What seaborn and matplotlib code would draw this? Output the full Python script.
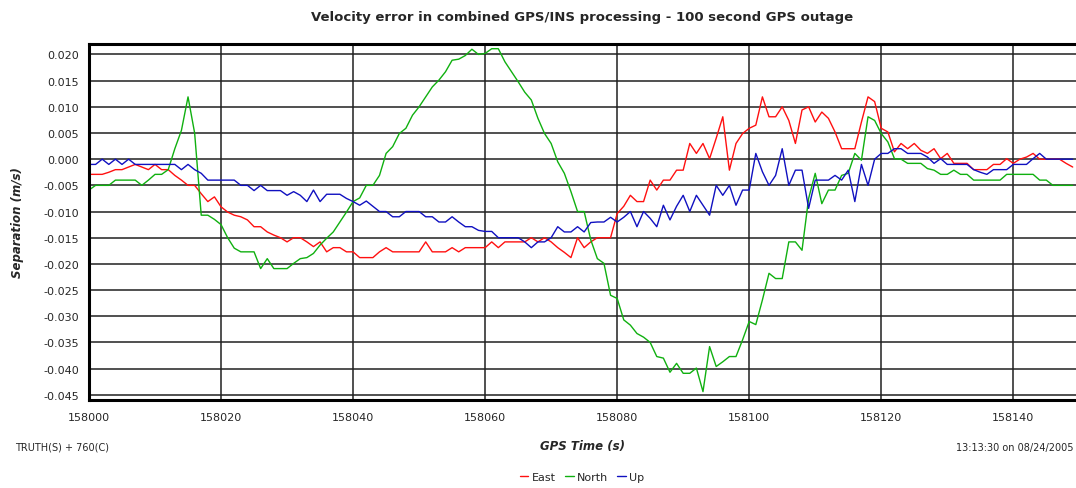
import matplotlib
matplotlib.use("Agg")
import matplotlib.pyplot as plt
import numpy as np
import pandas as pd
import seaborn as sns

# GPS time, one sample per second
gps_time = np.arange(158000, 158150)

east = [
    -0.0029, -0.0029, -0.0029, -0.0025, -0.0020, -0.0020, -0.0015, -0.0010, -0.0015, -0.0020,
    -0.0010, -0.0020, -0.0020, -0.0031, -0.0040, -0.0050, -0.0050, -0.0066, -0.0081, -0.0072,
    -0.0091, -0.0101, -0.0107, -0.0110, -0.0116, -0.0129, -0.0129, -0.0139, -0.0145, -0.0150,
    -0.0158, -0.0150, -0.0150, -0.0158, -0.0167, -0.0158, -0.0177, -0.0169, -0.0169, -0.0177,
    -0.0177, -0.0188, -0.0188, -0.0188, -0.0177, -0.0169, -0.0177, -0.0177, -0.0177, -0.0177,
    -0.0177, -0.0158, -0.0177, -0.0177, -0.0177, -0.0169, -0.0177, -0.0169, -0.0169, -0.0169,
    -0.0169, -0.0158, -0.0169, -0.0158, -0.0158, -0.0158, -0.0158, -0.0150, -0.0158, -0.0150,
    -0.0158, -0.0169, -0.0178, -0.0188, -0.0150, -0.0169, -0.0158, -0.0150, -0.0150, -0.0150,
    -0.0104, -0.0090, -0.0069, -0.0081, -0.0081, -0.0040, -0.0059, -0.0040, -0.0040, -0.0021,
    -0.0021, 0.0030, 0.0011, 0.0030, 0.0001, 0.0040, 0.0081, -0.0021, 0.0030, 0.0049,
    0.0059, 0.0065, 0.0119, 0.0081, 0.0081, 0.0100, 0.0074, 0.0030, 0.0094, 0.0100,
    0.0071, 0.0090, 0.0078, 0.0052, 0.0020, 0.0020, 0.0020, 0.0071, 0.0119, 0.0110,
    0.0059, 0.0052, 0.0014, 0.0030, 0.0020, 0.0030, 0.0017, 0.0011, 0.0020, 0.0001,
    0.0011, -0.0008, -0.0008, -0.0008, -0.0020, -0.0020, -0.0020, -0.0010, -0.0010, 0.0001,
    -0.0008, 0.0000, 0.0004, 0.0011, 0.0000, 0.0000, 0.0000, 0.0000, -0.0008, -0.0015,
]

north = [
    -0.0059, -0.0050, -0.0050, -0.0050, -0.0040, -0.0040, -0.0040, -0.0040, -0.0050, -0.0040,
    -0.0029, -0.0029, -0.0020, 0.0020, 0.0055, 0.0119, 0.0050, -0.0107, -0.0107, -0.0115,
    -0.0125, -0.0150, -0.0170, -0.0177, -0.0177, -0.0177, -0.0209, -0.0190, -0.0209, -0.0209,
    -0.0209, -0.0199, -0.0190, -0.0188, -0.0180, -0.0164, -0.0151, -0.0139, -0.0120, -0.0101,
    -0.0081, -0.0074, -0.0050, -0.0050, -0.0031, 0.0011, 0.0024, 0.0049, 0.0059, 0.0084,
    0.0100, 0.0119, 0.0138, 0.0151, 0.0167, 0.0189, 0.0191, 0.0198, 0.0210, 0.0200,
    0.0202, 0.0211, 0.0211, 0.0186, 0.0167, 0.0148, 0.0128, 0.0113, 0.0078, 0.0049,
    0.0030, -0.0005, -0.0027, -0.0062, -0.0100, -0.0100, -0.0154, -0.0190, -0.0199, -0.0260,
    -0.0266, -0.0307, -0.0317, -0.0333, -0.0340, -0.0350, -0.0377, -0.0380, -0.0407, -0.0390,
    -0.0409, -0.0409, -0.0399, -0.0444, -0.0358, -0.0396, -0.0387, -0.0377, -0.0377, -0.0345,
    -0.0310, -0.0316, -0.0269, -0.0218, -0.0228, -0.0228, -0.0158, -0.0158, -0.0174, -0.0075,
    -0.0027, -0.0085, -0.0059, -0.0059, -0.0031, -0.0027, 0.0011, -0.0002, 0.0081, 0.0074,
    0.0049, 0.0033, 0.0001, 0.0000, -0.0008, -0.0008, -0.0008, -0.0018, -0.0021, -0.0029,
    -0.0029, -0.0021, -0.0029, -0.0029, -0.0040, -0.0040, -0.0040, -0.0040, -0.0040, -0.0029,
    -0.0029, -0.0029, -0.0029, -0.0029, -0.0040, -0.0040, -0.0050, -0.0050, -0.0050, -0.0050,
]

up = [
    -0.0010, -0.0010, 0.0000, -0.0010, 0.0000, -0.0010, 0.0000, -0.0010, -0.0010, -0.0010,
    -0.0010, -0.0010, -0.0010, -0.0010, -0.0020, -0.0010, -0.0020, -0.0027, -0.0040, -0.0040,
    -0.0040, -0.0040, -0.0040, -0.0050, -0.0050, -0.0060, -0.0050, -0.0060, -0.0060, -0.0060,
    -0.0069, -0.0062, -0.0069, -0.0081, -0.0059, -0.0081, -0.0067, -0.0067, -0.0067, -0.0075,
    -0.0081, -0.0088, -0.0080, -0.0090, -0.0100, -0.0100, -0.0110, -0.0110, -0.0100, -0.0100,
    -0.0100, -0.0110, -0.0110, -0.0120, -0.0120, -0.0110, -0.0120, -0.0129, -0.0129, -0.0136,
    -0.0138, -0.0138, -0.0150, -0.0150, -0.0150, -0.0150, -0.0158, -0.0169, -0.0158, -0.0158,
    -0.0150, -0.0129, -0.0139, -0.0139, -0.0129, -0.0139, -0.0121, -0.0120, -0.0120, -0.0111,
    -0.0120, -0.0111, -0.0100, -0.0129, -0.0100, -0.0113, -0.0129, -0.0088, -0.0116, -0.0090,
    -0.0069, -0.0100, -0.0069, -0.0088, -0.0107, -0.0050, -0.0069, -0.0050, -0.0088, -0.0059,
    -0.0059, 0.0011, -0.0024, -0.0050, -0.0031, 0.0020, -0.0050, -0.0021, -0.0021, -0.0094,
    -0.0040, -0.0040, -0.0040, -0.0031, -0.0040, -0.0021, -0.0081, -0.0010, -0.0050, 0.0000,
    0.0011, 0.0011, 0.0020, 0.0020, 0.0011, 0.0011, 0.0011, 0.0004, -0.0008, 0.0001,
    -0.0010, -0.0010, -0.0010, -0.0010, -0.0020, -0.0025, -0.0029, -0.0020, -0.0020, -0.0020,
    -0.0010, -0.0010, -0.0010, 0.0001, 0.0011, 0.0000, 0.0000, 0.0000, 0.0000, 0.0000,
]

components = ["East", "North", "Up"]
colors = {"East": "#ff1010", "North": "#10b010", "Up": "#1010c0"}
y_ticks = [-0.045, -0.040, -0.035, -0.030, -0.025, -0.020, -0.015, -0.010, -0.005,
           0.000, 0.005, 0.010, 0.015, 0.020]
y_tick_labels = ["-0.045", "-0.040", "-0.035", "-0.030", "-0.025", "-0.020", "-0.015",
                 "-0.010", "-0.005", "0.000", "0.005", "0.010", "0.015", "0.020"]
x_ticks = [158000, 158020, 158040, 158060, 158080, 158100, 158120, 158140]

df = pd.DataFrame({"GPS Time": gps_time, "East": east, "North": north, "Up": up})
long_df = df.melt(id_vars="GPS Time", var_name="Component", value_name="Separation")

sns.set_theme(style="white")
plt.rcParams["font.family"] = ["DejaVu Sans"]

fig = plt.figure(figsize=(10.76, 4.89), dpi=100)
ax = fig.add_axes([89 / 1076, 1 - 401 / 489, 1 - 89 / 1076, (401 - 45) / 489])

sns.lineplot(data=long_df, x="GPS Time", y="Separation", hue="Component",
             hue_order=components, palette=colors, linewidth=1.0, ax=ax, legend=True)

ax.set_xlim(158000, 158149.5)
ax.set_ylim(-0.0460, 0.0220)
ax.set_xticks(x_ticks)
ax.set_xticklabels([str(v) for v in x_ticks], fontsize=8)
ax.set_yticks(y_ticks)
ax.set_yticklabels(y_tick_labels, fontsize=8)
ax.tick_params(axis="both", length=4, width=1, color="black", direction="out", pad=3)
ax.tick_params(axis="x", pad=5)
ax.grid(True, color="#202020", linewidth=1.1)

for side in ["left", "top", "bottom"]:
    ax.spines[side].set_color("black")
    ax.spines[side].set_linewidth(2.2)
ax.spines["right"].set_visible(False)

ax.set_title("Velocity error in combined GPS/INS processing - 100 second GPS outage",
             fontsize=9.5, fontweight="bold", pad=17)
ax.set_xlabel("GPS Time (s)", fontsize=8.5, fontweight="bold", style="italic", labelpad=12)
ax.set_ylabel("Separation (m/s)", fontsize=8.5, fontweight="bold", style="italic", labelpad=14)

fig.text(15 / 1076, 1 - 448 / 489, "TRUTH(S) + 760(C)", fontsize=7, va="center", ha="left")
fig.text(1073 / 1076, 1 - 448 / 489, "13:13:30 on 08/24/2005", fontsize=7, va="center", ha="right")

handles, labels = ax.get_legend_handles_labels()
ax.get_legend().remove()
fig.legend(handles, labels, loc="center", bbox_to_anchor=(582 / 1076, 1 - 478 / 489),
           ncol=3, frameon=False, fontsize=8, handlelength=0.8, handletextpad=0.3,
           columnspacing=0.8)

fig.savefig("out.png", dpi=100)
plt.close(fig)
